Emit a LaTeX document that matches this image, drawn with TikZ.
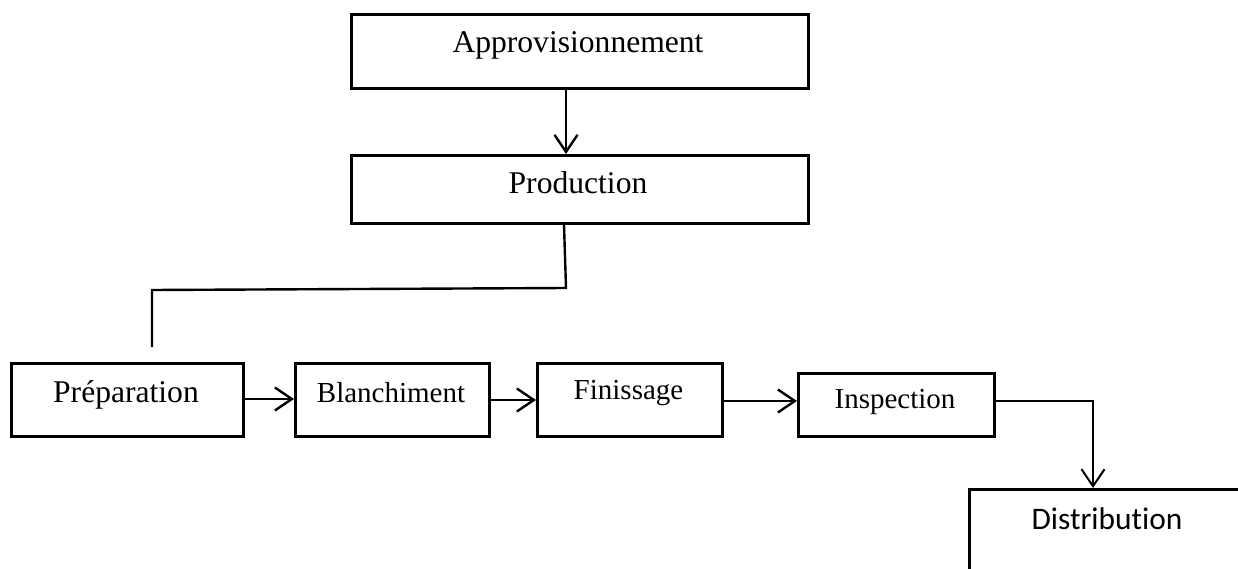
\documentclass[tikz,border=0pt]{standalone}
\usepackage{fontspec}
\setmainfont{Liberation Serif}
\newfontfamily\sansbody[Ligatures=NoCommon]{Carlito}
\usetikzlibrary{arrows.meta}
\begin{document}
\begin{tikzpicture}[x=1pt,y=-1pt,
  box/.style={draw, line width=3pt, inner sep=0pt, anchor=north west},
  biglbl/.style={anchor=base, inner sep=0pt, font=\fontsize{31.6}{36}\selectfont},
  smalllbl/.style={anchor=base, inner sep=0pt, font=\fontsize{29}{34}\selectfont},
  conn/.style={line width=2.4pt},
  arrow/.style={conn, -{Straight Barb[length=17pt,width=23pt]}}]
\useasboundingbox (0,0) rectangle (1238,569);
\clip (0,0) rectangle (1238,569);

% process boxes
\node[box, minimum width=457, minimum height=74] (appr) at (350,13) {};
\node[box, minimum width=457, minimum height=68] (prod) at (350,154) {};
\node[box, minimum width=232, minimum height=73] (prep) at (10,362) {};
\node[box, minimum width=194, minimum height=73] (blan) at (294,362) {};
\node[box, minimum width=185, minimum height=73] (fini) at (536,362) {};
\node[box, minimum width=196, minimum height=63] (insp) at (797,372) {};
\node[box, minimum width=320, minimum height=140] (dist) at (968,488) {};

% labels
\node[biglbl] (appr-t) at (578,53) {Approvisionnement};
\node[biglbl] (prod-t) at (578,194) {Production};
\node[biglbl] (prep-t) at (126,402) {Préparation};
\node[smalllbl] (blan-t) at (391,402) {Blanchiment};
\node[smalllbl] (fini-t) at (628.5,399) {Finissage};
\node[smalllbl] (insp-t) at (895,408) {Inspection};
\node[anchor=base, inner sep=0pt, font=\sansbody\fontsize{31.4}{36}\selectfont] (dist-t) at (1107,529) {Distribution};

% connector routing points
\coordinate (ax) at (566,0);
\coordinate (k0) at (564,0);
\coordinate (k1) at (566,288);
\coordinate (k2) at (152,290);
\coordinate (k3) at (152,347);
\coordinate (r1) at (0,399);
\coordinate (r2) at (0,400);
\coordinate (r3) at (0,401);
\coordinate (turn) at (1093,401);

% connectors
\draw[arrow] (appr.south -| ax) -- (prod.north -| ax);
\draw[conn, line join=miter] (prod.south -| k0) -- (k1) -- (k2) -- (k3);
\draw[arrow] (prep.east |- r1) -- (blan.west |- r1);
\draw[arrow] (blan.east |- r2) -- (fini.west |- r2);
\draw[arrow] (fini.east |- r3) -- (insp.west |- r3);
\draw[arrow, line width=2pt] (insp.east |- turn) -- (turn) -- (turn |- dist.north);
\end{tikzpicture}
\end{document}
